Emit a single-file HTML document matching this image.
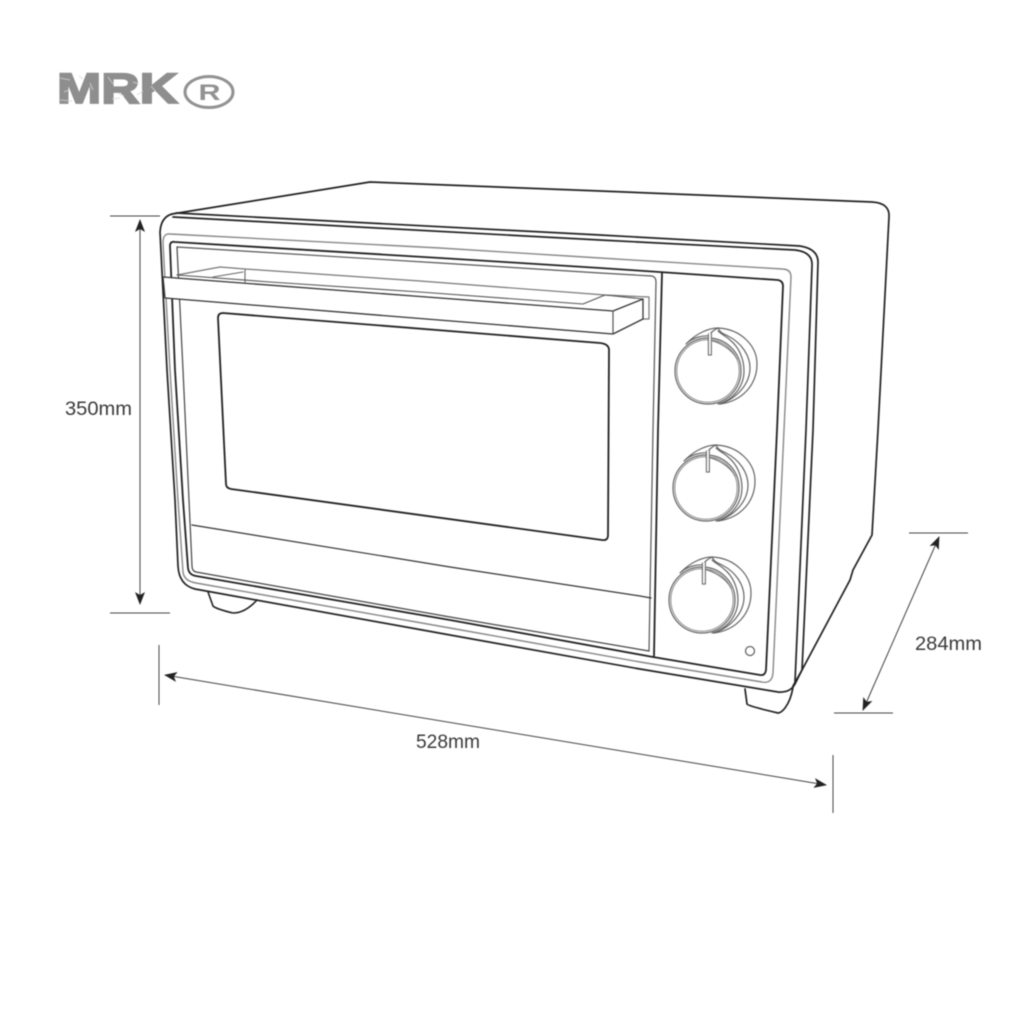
<!DOCTYPE html>
<html>
<head>
<meta charset="utf-8">
<style>
html,body{margin:0;padding:0;background:#fff;width:1024px;height:1024px;overflow:hidden}
svg{display:block;filter:blur(0.45px)}
text{font-family:"Liberation Sans",sans-serif}
</style>
</head>
<body>
<svg width="1024" height="1024" viewBox="0 0 1024 1024" xmlns="http://www.w3.org/2000/svg">
<defs>
<g id="knob" fill="none">
  <g stroke="#666" stroke-width="1.2" stroke-linejoin="round" stroke-linecap="round">
    <path d="M-21,-28 C-11,-38 1,-43 10,-43 C33,-42 49,-25 49,-7 C49,13 35,30 12,33"/>
    <path d="M10,-43 C12,-38 16,-37 20,-35 C34,-28 42,-15 42,-3 C42,12 30,27 12,33"/>
    <path d="M-22,-27 C-16,-33 -6,-36 3,-35 C0,-37 6,-41 10,-43"/>
    <path d="M10,-40 C14,-36 18,-35 22,-31 C31,-24 36,-12 36,0 C36,14 27,28 10,33"/>
    <circle cx="0" cy="0" r="33"/>
    <circle cx="0" cy="0" r="31.2" stroke="#888" stroke-width="1"/>
    <path d="M0,-31 C10,-30 24,-22 29,-12" stroke="#777"/>
    <path d="M0.4,-37 L0.4,-16 L3.4,-16 L3.4,-38" fill="#fff" stroke="#777"/>
  </g>
</g>
<marker id="a" viewBox="0 0 13 10" refX="12" refY="5" markerWidth="13" markerHeight="10" markerUnits="userSpaceOnUse" orient="auto-start-reverse">
  <path d="M0,0 L13,5 L0,10 L3,5 Z" fill="#222"/>
</marker>
</defs>

<rect width="1024" height="1024" fill="#fff"/>

<!-- logo -->
<text x="57" y="103" font-size="43" font-weight="700" fill="#8e8e8e" stroke="#8e8e8e" stroke-width="1.8" textLength="121" lengthAdjust="spacingAndGlyphs">MRK</text>
<g stroke="#d4d4d4" stroke-width="1" opacity=".8">
  <path d="M60,78 L70,80 M64,92 L69,90 M60,100 L72,101 M79,76 L83,79 M90,83 L93,90 M108,77 L113,84 M118,93 L124,96 M112,99 L120,98 M133,82 L139,84 M137,95 L143,91 M151,86 L156,92"/>
</g>
<ellipse cx="209" cy="92" rx="24" ry="15.5" fill="none" stroke="#929292" stroke-width="3"/>
<text x="198.5" y="100" font-size="22" font-weight="700" fill="#929292" textLength="22" lengthAdjust="spacingAndGlyphs">R</text>

<g fill="none" stroke-linecap="round" stroke-linejoin="round">
  <!-- body top and side -->
  <path d="M172,214 L370,182 L600,191 L872,202 Q890,203 889,217 L878,430 L872,535 L853,570 L850,580 L802,670 L793,686" stroke="#222" stroke-width="1.7"/>

  <!-- feet -->
  <path d="M208,592 L213,606 Q216,609 233,613 Q245,613 257,600" stroke="#222" stroke-width="1.6"/>
  <path d="M745,689 L747,704 Q748,706 778,713 Q781,713 785,708 Q791,700 793,687" stroke="#222" stroke-width="1.7"/>

  <!-- outer front -->
  <path d="M172,214 Q161,217 160,232 L167,370 L175,500 L178,566 Q179,585 195,589 L450,635 L640,669 L778,692 Q790,693 795,684 L802,670 L813,430 L818,262 Q818,249 800,246 L600,235 L176,213" stroke="#222" stroke-width="1.7"/>
  <path d="M173,217 L600,240 L795,250 Q813,252 812,266 L806,430 L795,682" stroke="#222" stroke-width="1.7"/>

  <!-- grey inset -->
  <path d="M163,243 Q163,233 170,234 L440,248 L600,258 L782,269 Q791,269 791,277 L784,430 L773,673 Q772,684 762,682 L640,662 L450,628 L196,583 Q184,581 183,572 L178,500 L170,370 Z" stroke="#888" stroke-width="1.4"/>

  <!-- door/panel frame -->
  <path d="M170,246 Q170,241 175,242 L440,258 L600,268 L778,280 Q783,281 783,286 L777,430 L766,670 Q765,676 760,675 L653,657 L450,620 L196,576 Q189,575 188,568 L183,500 L175,370 Z" stroke="#222" stroke-width="1.8"/>

  <!-- door inner -->
  <path d="M177,247 L440,263 L600,273 L652,276 Q656,277 656,282 L653,430 L649,651" stroke="#555" stroke-width="1.2"/>
  <path d="M177,247 L183,370 L189,500 L192,566 Q192,571 196,572 L450,617 L649,651" stroke="#444" stroke-width="1.2"/>
  <path d="M662,273 L658,430 L654,656" stroke="#222" stroke-width="1.8"/>
  <path d="M192,525 L450,567 L640,596 L651,598" stroke="#333" stroke-width="1.2"/>

  <!-- window -->
  <path d="M223,313 L600,343 Q609,344 609,350 L608,535 Q608,541 602,540 L231,489 Q226,488 226,484 L218,318 Q218,313 223,313 Z" stroke="#222" stroke-width="1.8" fill="#fff"/>

  <!-- handle -->
  <path d="M177,275 L220,267 L245,269 L420,281 L605,295 L649,297 L649,319 L643,319" stroke="#777" stroke-width="1.2"/>
  <path d="M213,277 L243,272 M245,270 L245,282" stroke="#666" stroke-width="1.1"/>
  <path d="M177,275 L270,282 L420,292 L583,304 L605,295 L643,299" stroke="#555" stroke-width="1.1"/>
  <path d="M163,277 L420,296.5 L613,311 L643,299 L643,319 L613,334 L165,298 Z" stroke="#333" stroke-width="1.3" fill="#fff"/>
  <path d="M613,311 L613,334" stroke="#555" stroke-width="1.2"/>
</g>

<!-- knobs -->
<use href="#knob" x="708" y="371"/>
<use href="#knob" x="706" y="488"/>
<use href="#knob" x="702" y="600"/>
<circle cx="750" cy="651" r="4.5" fill="none" stroke="#666" stroke-width="1.3"/>

<!-- dimensions -->
<g fill="none" stroke="#444" stroke-width="1">
  <path d="M110,216 H160 M110,613 H170 M159,645 V705 M833,755 V813 M909,533 H968 M834,713 H893"/>
  <path d="M140,220 V604" marker-start="url(#a)" marker-end="url(#a)"/>
  <path d="M165,675 L826,785" marker-start="url(#a)" marker-end="url(#a)"/>
  <path d="M939,537 L863,710" marker-start="url(#a)" marker-end="url(#a)"/>
</g>
<g font-size="19.5" fill="#3a3a3a">
  <text x="65" y="415" textLength="67" lengthAdjust="spacingAndGlyphs">350mm</text>
  <text x="416" y="748" textLength="64" lengthAdjust="spacingAndGlyphs">528mm</text>
  <text x="915" y="650" textLength="67" lengthAdjust="spacingAndGlyphs">284mm</text>
</g>
</svg>
</body>
</html>
